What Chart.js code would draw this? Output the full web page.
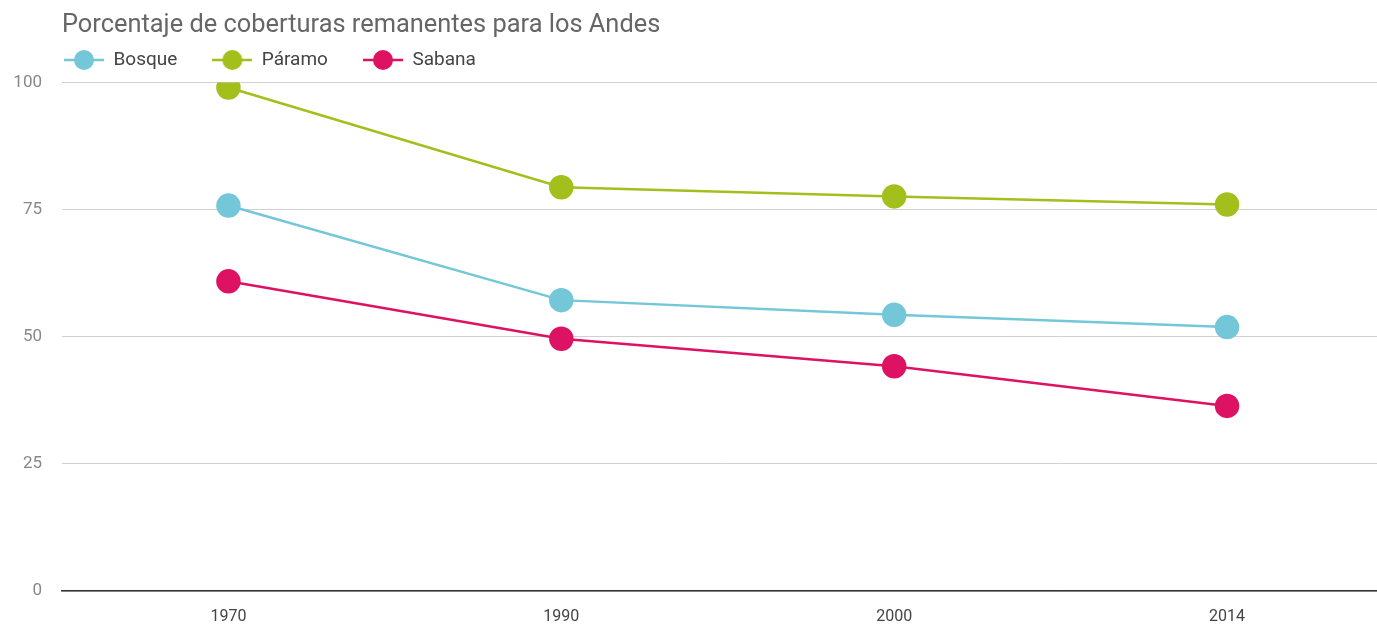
<!DOCTYPE html>
<html>
<head>
<meta charset="utf-8">
<script src="https://cdn.jsdelivr.net/npm/chart.js@4"></script>
<style>
  html, body { margin: 0; padding: 0; background: #fff; overflow: hidden; }
  #wrap { width: 1407px; height: 629px; }
</style>
</head>
<body>
<div id="wrap"><canvas id="chart" width="1407" height="629"></canvas></div>
<script>
// datos
const years = ['1970', '1990', '2000', '2014'];
const bosque = [75.8, 57.2, 54.3, 51.9];
const paramo = [99.0, 79.4, 77.6, 76.0];
const sabana = [60.9, 49.6, 44.2, 36.4];
const yTicks = [0, 25, 50, 75, 100];

const colors = {
    bosque: '#73c7d8',
    paramo: '#a3bf1c',
    sabana: '#de1262'
};

const LEGEND_PAD = 35;
const LEGEND_FONT = 19;
const LEGEND_X = 64;   // inicio del primer icono

// icono de leyenda: linea + circulo
function legendIcon(color) {
    const c = document.createElement('canvas');
    c.width = 40;
    c.height = 22;
    const g = c.getContext('2d');
    g.strokeStyle = color;
    g.lineWidth = 2.5;
    g.beginPath();
    g.moveTo(0, 11);
    g.lineTo(40, 11);
    g.stroke();
    g.fillStyle = color;
    g.beginPath();
    g.arc(20, 11, 10, 0, Math.PI * 2);
    g.fill();
    return c;
}

function serie(label, data, color) {
    return {
        label: label,
        data: data,
        borderColor: color,
        backgroundColor: color,
        pointBackgroundColor: color,
        pointBorderColor: color,
        pointRadius: 11,
        pointHoverRadius: 11,
        borderWidth: 2.5,
        tension: 0,
        pointStyle: 'circle'
    };
}

// ajusta posicion de titulo y leyenda
const layoutFix = {
    id: 'layoutFix',
    beforeInit(chart) {
        const legend = chart.legend;
        const fit = legend.fit;
        legend.fit = function() {
            fit.call(this);
            this.height = 44;
        };
    },
    afterLayout(chart) {
        const t = chart.titleBlock;
        t.left += 54;
        t.right += 54;
        t.top += 2;
        t.bottom += 2;
        const l = chart.legend;
        const dx = LEGEND_X - LEGEND_PAD - l.left;
        l.left += dx;
        l.right += dx;
        l.top = 60 - LEGEND_PAD - LEGEND_FONT / 2;
        l.bottom = 80;
    }
};

const ctx = document.getElementById('chart');
new Chart(ctx, {
    type: 'line',
    data: {
        labels: years,
        datasets: [
            serie('Bosque', bosque, colors.bosque),
            serie('Páramo', paramo, colors.paramo),
            serie('Sabana', sabana, colors.sabana)
        ]
    },
    plugins: [layoutFix],
    options: {
        responsive: false,
        animation: false,
        layout: { padding: { left: 8, right: 0, top: 0, bottom: 4 } },
        plugins: {
            title: {
                display: true,
                text: 'Porcentaje de coberturas remanentes para los Andes',
                align: 'start',
                color: '#666',
                font: { family: 'Roboto', size: 25.4, weight: '400', lineHeight: 1.2 },
                padding: { top: 8, bottom: 0 }
            },
            legend: {
                align: 'start',
                labels: {
                    usePointStyle: true,
                    pointStyleWidth: 40,
                    color: '#444',
                    font: { family: 'Roboto', size: LEGEND_FONT },
                    padding: LEGEND_PAD,
                    generateLabels: function(chart) {
                        return chart.data.datasets.map((ds, i) => ({
                            text: ds.label,
                            fillStyle: ds.borderColor,
                            strokeStyle: ds.borderColor,
                            fontColor: '#444',
                            pointStyle: legendIcon(ds.borderColor),
                            datasetIndex: i,
                            hidden: false
                        }));
                    }
                }
            },
            tooltip: { enabled: false }
        },
        scales: {
            x: {
                offset: true,
                afterFit: function(axis) { axis.height = 34; },
                grid: { display: false, drawTicks: false },
                border: { color: '#333', width: 1.5 },
                ticks: {
                    color: '#444',
                    font: { family: 'Roboto', size: 16 },
                    padding: 16
                }
            },
            y: {
                min: 0,
                max: 100,
                afterFit: function(axis) { axis.width = 54; },
                afterBuildTicks: function(axis) {
                    axis.ticks = yTicks.map(v => ({ value: v }));
                },
                grid: {
                    color: '#d0d0d0',
                    lineWidth: 1,
                    drawTicks: false
                },
                border: { display: false },
                ticks: {
                    color: '#888',
                    font: { family: 'Roboto', size: 17 },
                    padding: 20
                }
            }
        }
    }
});
</script>
</body>
</html>
